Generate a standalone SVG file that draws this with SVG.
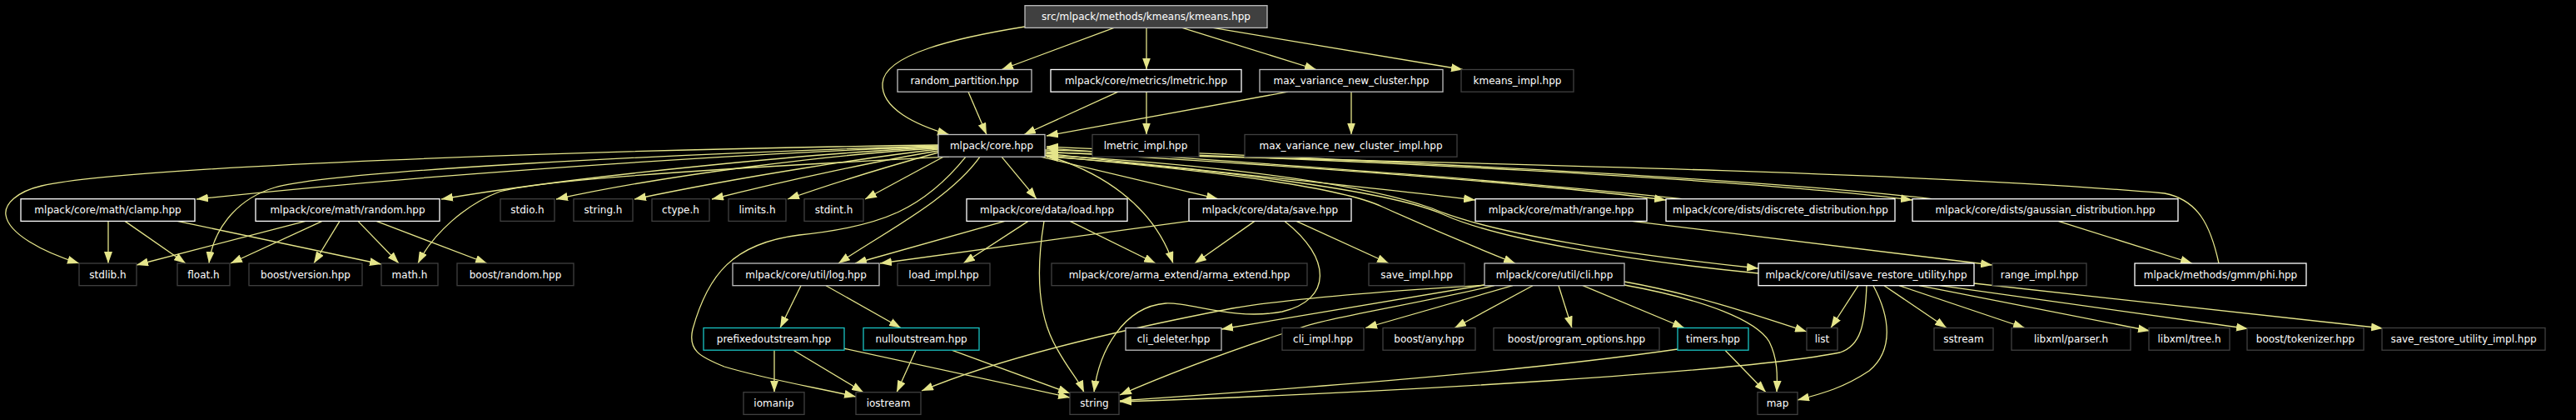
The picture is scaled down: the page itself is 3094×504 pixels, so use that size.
<svg xmlns="http://www.w3.org/2000/svg" width="3094" height="504" viewBox="0 0 3094 504">
<style>
rect{fill:#000;stroke-width:1.3}
.w{stroke:#ffffff}
.g{stroke:#bfbfbf}
.d{stroke:#404040}
.c{stroke:#19c3c3}
.root{fill:#404040;stroke:#bfbfbf}
text{font-family:"DejaVu Sans",sans-serif;font-size:12px;fill:#ffffff;text-anchor:middle}
#edges path{fill:none;stroke:#e5e58a;stroke-width:1.3;marker-end:url(#ah)}
</style>
<defs>
<marker id="ah" markerUnits="userSpaceOnUse" markerWidth="14" markerHeight="10" refX="14" refY="5" orient="auto">
<path d="M0,0 L14,5 L0,10 z" fill="#e5e58a"/>
</marker>
</defs>
<rect x="0" y="0" width="3094" height="504" fill="#000" stroke="none"/>
<g id="edges">
<path d="M1231,32 C1150,45 1062,65 1060,100 C1058,130 1100,150 1140,161.5"/>
<path d="M1338,33.4 L1203,83.5"/>
<path d="M1377,33.4 L1377,83.5"/>
<path d="M1420,33.4 L1581,83.5"/>
<path d="M1457,33.4 L1757,83.5"/>
<path d="M1163,110.2 L1185,161.5"/>
<path d="M1343,110.2 L1230,161.5"/>
<path d="M1377,110.2 L1377,161.5"/>
<path d="M1547,110.2 L1257,163"/>
<path d="M1623,110.2 L1623,161.5"/>
<path d="M1127,176 C1000,180 600,200 236,239"/>
<path d="M1127,177 C1000,182 700,210 530,239"/>
<path d="M1127,178 C1000,185 800,210 668,239"/>
<path d="M1127,179 C1050,188 900,210 762,239"/>
<path d="M1127,181 C1060,192 950,215 855,239"/>
<path d="M1127,183 C1080,196 1000,220 946,239"/>
<path d="M1133,188.2 L1039,239"/>
<path d="M1127,174 C700,180 150,200 50,223 C20,230 5,245 7,258 C10,280 50,302 95,316"/>
<path d="M1127,175 C800,185 400,205 330,225 C280,240 255,280 251,316"/>
<path d="M1140,188.2 C900,200 650,215 600,230 C560,245 520,280 502,316"/>
<path d="M1177,188.2 C1140,240 1060,280 1007,316"/>
<path d="M1160,188.2 C1110,250 1060,272 960,282 C880,292 850,330 832,395 C826,420 840,428 870,440 C920,455 980,465 1028,476"/>
<path d="M1203,188.2 L1245,238.7"/>
<path d="M1250,188.2 L1463,238.7"/>
<path d="M1255,186 C1320,205 1385,245 1409,316"/>
<path d="M1255,184 C1400,200 1650,225 1772,240"/>
<path d="M1255,182 C1500,195 1850,220 2001,240"/>
<path d="M1255,180 C1600,190 2100,215 2297,240"/>
<path d="M2020,238.7 C1800,215 1500,195 1257,178"/>
<path d="M2320,238.7 C2100,213 1600,190 1257,176"/>
<path d="M2665,316 C2655,270 2640,240 2600,232 C2300,205 1600,192 1257,183"/>
<path d="M1255,187 C1400,200 1600,220 1660,248 C1720,275 1780,300 1820,316"/>
<path d="M1255,186 C1500,200 1650,225 1720,250 C1790,280 1950,305 2112,322"/>
<path d="M2112,328 C1950,312 1800,287 1735,258 C1670,228 1450,202 1257,188"/>
<path d="M130,265.4 L130,316"/>
<path d="M150,265.4 L223,316"/>
<path d="M213,265.4 L458,317"/>
<path d="M367,265.4 L164,318"/>
<path d="M387,265.4 L277,316"/>
<path d="M408,265.4 L377,316"/>
<path d="M430,265.4 L479,316"/>
<path d="M452,265.4 L585,316"/>
<path d="M1207,265.4 L1027,316"/>
<path d="M1235,265.4 L1157,316"/>
<path d="M1285,265.4 L1388,316"/>
<path d="M1254,265.4 C1245,320 1245,370 1265,410 C1280,440 1295,455 1302,470.7"/>
<path d="M1428,265.4 L1057,316"/>
<path d="M1507,265.4 L1435,316"/>
<path d="M1557,265.4 L1668,316"/>
<path d="M1543,265.4 C1600,310 1600,360 1540,374 C1480,385 1430,362 1400,364 C1350,368 1320,420 1314,470.7"/>
<path d="M962,342.7 L937,393.5"/>
<path d="M992,342.7 L1082,393.5"/>
<path d="M930,420.2 L930,470.7"/>
<path d="M953,420.2 L1037,470.7"/>
<path d="M1013,418 L1285,477"/>
<path d="M1100,420.2 L1077,470.7"/>
<path d="M1143,420.2 L1285,472"/>
<path d="M1783,342 L1467,395"/>
<path d="M1785,342 C1650,350 1540,360 1480,370 C1350,395 1200,430 1107,469"/>
<path d="M1795,342.7 C1700,365 1600,380 1560,394 C1480,420 1400,450 1345,474"/>
<path d="M1817,342.7 L1640,393.5"/>
<path d="M1841,342.7 L1747,393.5"/>
<path d="M1872,342.7 L1888,393.5"/>
<path d="M1901,342.7 L2023,393.5"/>
<path d="M1951,338 C2030,352 2100,375 2170,398"/>
<path d="M1951,342 C2050,360 2110,385 2125,410 C2135,430 2135,450 2134,470.7"/>
<path d="M2072,420.2 L2121,470.7"/>
<path d="M2015,419 C1800,450 1500,470 1345,481"/>
<path d="M2242,342.7 C2240,390 2235,415 2210,423 C2100,445 1700,470 1345,482"/>
<path d="M2232,342.7 L2199,393.5"/>
<path d="M2250,342.7 C2270,380 2275,420 2245,445 C2215,465 2190,472 2159,480"/>
<path d="M2263,342.7 L2338,393.5"/>
<path d="M2281,342.7 L2432,393.5"/>
<path d="M2305,342.7 L2582,397"/>
<path d="M2330,342.7 L2700,394.5"/>
<path d="M2371,340 L2862,394"/>
<path d="M1960,265.4 L2393,318"/>
<path d="M2472,265.4 L2633,316"/>
</g>
<g id="n_kmeans"><rect class="root" x="1231" y="6.7" width="291" height="26.7"/><text x="1376.5" y="24.2">src/mlpack/methods/kmeans/kmeans.hpp</text></g>
<g id="n_random_partition"><rect class="g" x="1078" y="83.5" width="161" height="26.7"/><text x="1158.5" y="101.2">random_partition.hpp</text></g>
<g id="n_lmetric"><rect class="w" x="1262" y="83.5" width="229" height="26.7"/><text x="1376.5" y="101.2">mlpack/core/metrics/lmetric.hpp</text></g>
<g id="n_max_variance"><rect class="g" x="1513" y="83.5" width="220" height="26.7"/><text x="1623" y="101.2">max_variance_new_cluster.hpp</text></g>
<g id="n_kmeans_impl"><rect class="d" x="1755" y="83.5" width="135" height="26.7"/><text x="1822.5" y="101.2">kmeans_impl.hpp</text></g>
<g id="n_core"><rect class="g" x="1127" y="161.5" width="128" height="26.7"/><text x="1191" y="179.2">mlpack/core.hpp</text></g>
<g id="n_lmetric_impl"><rect class="d" x="1312" y="161.5" width="128" height="26.7"/><text x="1376" y="179.2">lmetric_impl.hpp</text></g>
<g id="n_max_variance_impl"><rect class="d" x="1495" y="161.5" width="255" height="26.7"/><text x="1622.5" y="179.2">max_variance_new_cluster_impl.hpp</text></g>
<g id="n_clamp"><rect class="w" x="25" y="238.7" width="209" height="26.7"/><text x="129.5" y="256.4">mlpack/core/math/clamp.hpp</text></g>
<g id="n_random"><rect class="w" x="307" y="238.7" width="221" height="26.7"/><text x="417.5" y="256.4">mlpack/core/math/random.hpp</text></g>
<g id="n_stdio"><rect class="d" x="601" y="238.7" width="65" height="26.7"/><text x="633.5" y="256.4">stdio.h</text></g>
<g id="n_string_h"><rect class="d" x="689" y="238.7" width="71" height="26.7"/><text x="724.5" y="256.4">string.h</text></g>
<g id="n_ctype"><rect class="d" x="783" y="238.7" width="69" height="26.7"/><text x="817.5" y="256.4">ctype.h</text></g>
<g id="n_limits"><rect class="d" x="875" y="238.7" width="69" height="26.7"/><text x="909.5" y="256.4">limits.h</text></g>
<g id="n_stdint"><rect class="d" x="966" y="238.7" width="71" height="26.7"/><text x="1001.5" y="256.4">stdint.h</text></g>
<g id="n_load"><rect class="w" x="1161" y="238.7" width="193" height="26.7"/><text x="1257.5" y="256.4">mlpack/core/data/load.hpp</text></g>
<g id="n_save"><rect class="w" x="1428" y="238.7" width="195" height="26.7"/><text x="1525.5" y="256.4">mlpack/core/data/save.hpp</text></g>
<g id="n_range"><rect class="w" x="1772" y="238.7" width="206" height="26.7"/><text x="1875" y="256.4">mlpack/core/math/range.hpp</text></g>
<g id="n_discrete"><rect class="w" x="2001" y="238.7" width="275" height="26.7"/><text x="2138.5" y="256.4">mlpack/core/dists/discrete_distribution.hpp</text></g>
<g id="n_gaussian"><rect class="w" x="2297" y="238.7" width="319" height="26.7"/><text x="2456.5" y="256.4">mlpack/core/dists/gaussian_distribution.hpp</text></g>
<g id="n_stdlib"><rect class="d" x="95" y="316" width="69" height="26.7"/><text x="129.5" y="333.7">stdlib.h</text></g>
<g id="n_float"><rect class="d" x="213" y="316" width="63" height="26.7"/><text x="244.5" y="333.7">float.h</text></g>
<g id="n_boost_version"><rect class="d" x="299" y="316" width="136" height="26.7"/><text x="367" y="333.7">boost/version.hpp</text></g>
<g id="n_math"><rect class="d" x="458" y="316" width="68" height="26.7"/><text x="492" y="333.7">math.h</text></g>
<g id="n_boost_random"><rect class="d" x="549" y="316" width="140" height="26.7"/><text x="619" y="333.7">boost/random.hpp</text></g>
<g id="n_log"><rect class="g" x="880" y="316" width="176" height="26.7"/><text x="968" y="333.7">mlpack/core/util/log.hpp</text></g>
<g id="n_load_impl"><rect class="d" x="1078" y="316" width="111" height="26.7"/><text x="1133.5" y="333.7">load_impl.hpp</text></g>
<g id="n_arma_extend"><rect class="d" x="1263" y="316" width="307" height="26.7"/><text x="1416.5" y="333.7">mlpack/core/arma_extend/arma_extend.hpp</text></g>
<g id="n_save_impl"><rect class="d" x="1644" y="316" width="115" height="26.7"/><text x="1701.5" y="333.7">save_impl.hpp</text></g>
<g id="n_cli"><rect class="g" x="1783" y="316" width="168" height="26.7"/><text x="1867" y="333.7">mlpack/core/util/cli.hpp</text></g>
<g id="n_sru"><rect class="w" x="2112" y="316" width="259" height="26.7"/><text x="2241.5" y="333.7">mlpack/core/util/save_restore_utility.hpp</text></g>
<g id="n_range_impl"><rect class="d" x="2393" y="316" width="113" height="26.7"/><text x="2449.5" y="333.7">range_impl.hpp</text></g>
<g id="n_phi"><rect class="w" x="2564" y="316" width="206" height="26.7"/><text x="2667" y="333.7">mlpack/methods/gmm/phi.hpp</text></g>
<g id="n_prefixed"><rect class="c" x="845" y="393.5" width="169" height="26.7"/><text x="929.5" y="411.2">prefixedoutstream.hpp</text></g>
<g id="n_null"><rect class="c" x="1037" y="393.5" width="139" height="26.7"/><text x="1106.5" y="411.2">nulloutstream.hpp</text></g>
<g id="n_cli_deleter"><rect class="g" x="1352" y="393.5" width="115" height="26.7"/><text x="1409.5" y="411.2">cli_deleter.hpp</text></g>
<g id="n_cli_impl"><rect class="d" x="1540" y="393.5" width="98" height="26.7"/><text x="1589" y="411.2">cli_impl.hpp</text></g>
<g id="n_boost_any"><rect class="d" x="1661" y="393.5" width="111" height="26.7"/><text x="1716.5" y="411.2">boost/any.hpp</text></g>
<g id="n_program_options"><rect class="d" x="1794" y="393.5" width="199" height="26.7"/><text x="1893.5" y="411.2">boost/program_options.hpp</text></g>
<g id="n_timers"><rect class="c" x="2015" y="393.5" width="85" height="26.7"/><text x="2057.5" y="411.2">timers.hpp</text></g>
<g id="n_list"><rect class="d" x="2170" y="393.5" width="37" height="26.7"/><text x="2188.5" y="411.2">list</text></g>
<g id="n_sstream"><rect class="d" x="2323" y="393.5" width="71" height="26.7"/><text x="2358.5" y="411.2">sstream</text></g>
<g id="n_parser"><rect class="d" x="2416" y="393.5" width="143" height="26.7"/><text x="2487.5" y="411.2">libxml/parser.h</text></g>
<g id="n_tree"><rect class="d" x="2581" y="393.5" width="97" height="26.7"/><text x="2629.5" y="411.2">libxml/tree.h</text></g>
<g id="n_tokenizer"><rect class="d" x="2699" y="393.5" width="140" height="26.7"/><text x="2769" y="411.2">boost/tokenizer.hpp</text></g>
<g id="n_sru_impl"><rect class="d" x="2861" y="393.5" width="196" height="26.7"/><text x="2959" y="411.2">save_restore_utility_impl.hpp</text></g>
<g id="n_iomanip"><rect class="d" x="893" y="470.7" width="73" height="26.7"/><text x="929.5" y="488.4">iomanip</text></g>
<g id="n_iostream"><rect class="d" x="1028" y="470.7" width="78" height="26.7"/><text x="1067" y="488.4">iostream</text></g>
<g id="n_string"><rect class="d" x="1285" y="470.7" width="59" height="26.7"/><text x="1314.5" y="488.4">string</text></g>
<g id="n_map"><rect class="d" x="2111" y="470.7" width="48" height="26.7"/><text x="2135" y="488.4">map</text></g>
</svg>
